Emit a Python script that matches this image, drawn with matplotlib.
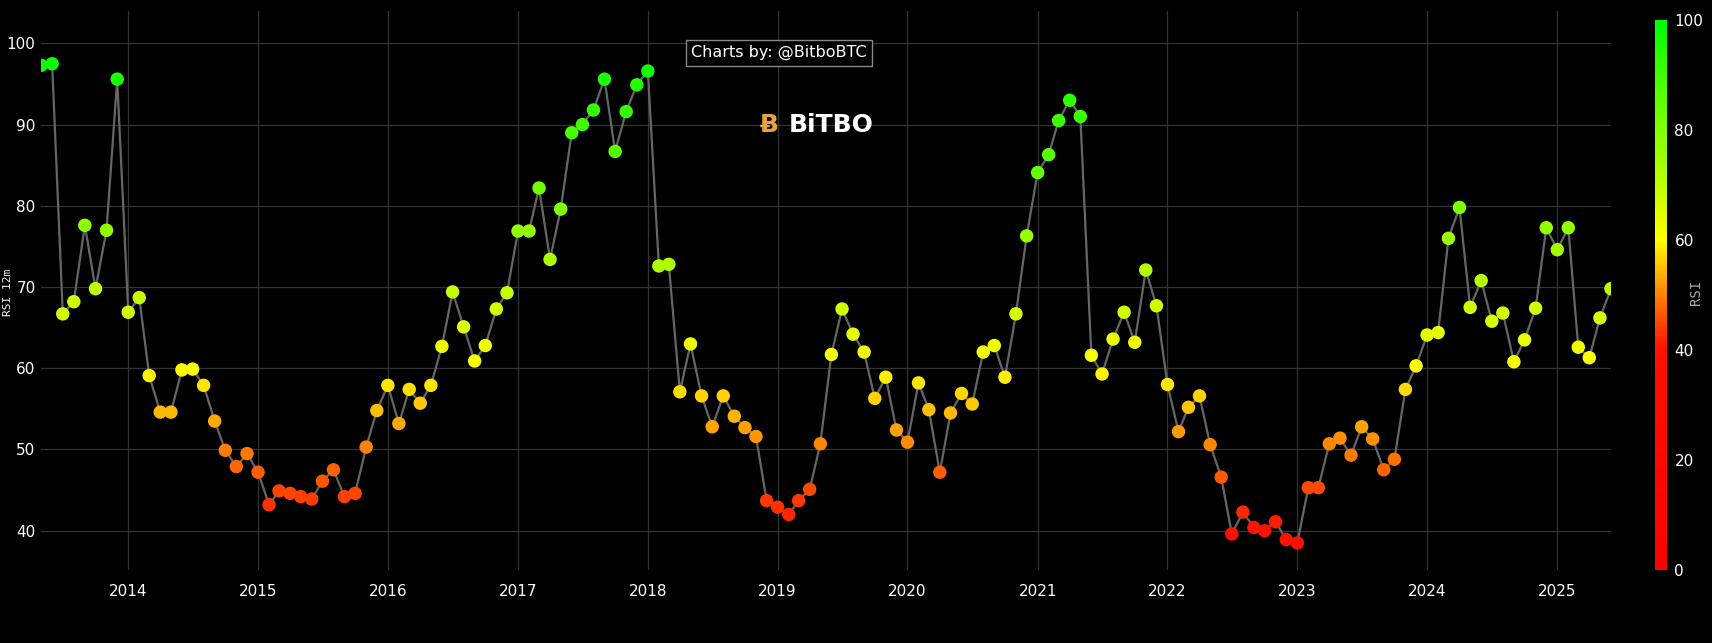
import numpy as np
import pandas as pd
import matplotlib
matplotlib.use("Agg")
from matplotlib import pyplot as plt
import matplotlib.dates as mdates
from matplotlib.colors import LinearSegmentedColormap, Normalize

rsi = [
    # 2013 (May-Dec)
    97.3, 97.5, 66.7, 68.2, 77.6, 69.8, 77.0, 95.6,
    # 2014
    66.9, 68.7, 59.1, 54.6, 54.6, 59.8, 59.9, 57.9, 53.5, 49.9, 47.9, 49.5,
    # 2015
    47.2, 43.2, 44.9, 44.6, 44.2, 43.9, 46.1, 47.5, 44.2, 44.6, 50.3, 54.8,
    # 2016
    57.9, 53.2, 57.4, 55.7, 57.9, 62.7, 69.4, 65.1, 60.9, 62.8, 67.3, 69.3,
    # 2017
    76.9, 76.9, 82.2, 73.4, 79.6, 89.0, 90.0, 91.8, 95.6, 86.7, 91.6, 94.9,
    # 2018
    96.6, 72.6, 72.8, 57.1, 63.0, 56.6, 52.8, 56.6, 54.1, 52.7, 51.6, 43.7,
    # 2019
    42.9, 42.0, 43.7, 45.1, 50.7, 61.7, 67.3, 64.2, 62.0, 56.3, 58.9, 52.4,
    # 2020
    50.9, 58.2, 54.9, 47.2, 54.5, 56.9, 55.6, 62.0, 62.8, 58.9, 66.7, 76.3,
    # 2021
    84.1, 86.3, 90.5, 93.0, 91.0, 61.6, 59.3, 63.6, 66.9, 63.2, 72.1, 67.7,
    # 2022
    58.0, 52.2, 55.2, 56.6, 50.6, 46.6, 39.6, 42.3, 40.4, 40.0, 41.1, 38.9,
    # 2023
    38.5, 45.3, 45.3, 50.7, 51.4, 49.3, 52.8, 51.3, 47.5, 48.8, 57.4, 60.3,
    # 2024
    64.1, 64.4, 76.0, 79.8, 67.5, 70.8, 65.8, 66.8, 60.8, 63.5, 67.4, 77.3,
    # 2025 (Jan-Jun)
    74.6, 77.3, 62.6, 61.3, 66.2, 69.8,
]
dates = pd.date_range("2013-05-01", periods=len(rsi), freq="MS")
yticks = [40, 50, 60, 70, 80, 90, 100]
cbar_ticks = [0, 20, 40, 60, 80, 100]

cmap = LinearSegmentedColormap.from_list(
    "rsi", [(0.0, "#ff0000"), (0.4, "#ff1000"), (0.5, "#ff8000"),
            (0.6, "#ffff00"), (0.8, "#80ff00"), (1.0, "#00ff00")])
norm = Normalize(0, 100)

fig = plt.figure(figsize=(17.12, 6.43), dpi=100, facecolor="black")
ax = fig.add_axes([0.024, 0.114, 0.917, 0.869], facecolor="black")

ax.plot(dates, rsi, color="#666666", lw=1.6, zorder=2)
ax.scatter(dates, rsi, c=rsi, cmap=cmap, norm=norm, s=75, zorder=3)

ax.set_xlim(dates[0], dates[-1])
ax.set_ylim(35.2, 104)
ax.set_yticks(yticks)
ax.xaxis.set_major_locator(mdates.YearLocator())
ax.xaxis.set_major_formatter(mdates.DateFormatter("%Y"))
ax.grid(color="#333333", lw=0.9)
for s in ax.spines.values():
    s.set_visible(False)
ax.tick_params(colors="white", length=0, labelsize=11)
ax.tick_params(axis="y", pad=4)
ax.tick_params(axis="x", pad=10)
fig.text(0.0015, 0.545, "RSI 12m", color="white", fontsize=8, rotation=90,
         ha="left", va="center", fontfamily="DejaVu Sans Mono")

ax.text(0.47, 0.925, "Charts by: @BitboBTC", transform=ax.transAxes, color="white",
        fontsize=11.5, ha="center", va="center",
        bbox=dict(boxstyle="square,pad=0.35", fc="black", ec="#888888", lw=1))
ax.text(0.464, 0.795, "\u0243", transform=ax.transAxes, color="#e8a33a",
        fontsize=18, ha="center", va="center", fontweight="bold")
ax.text(0.476, 0.795, "BiTBO", transform=ax.transAxes, color="white",
        fontsize=18, ha="left", va="center", fontweight="bold")

cax = fig.add_axes([0.9665, 0.114, 0.0075, 0.855])
cb = fig.colorbar(plt.cm.ScalarMappable(norm=norm, cmap=cmap), cax=cax, ticks=cbar_ticks)
cb.outline.set_visible(False)
cb.ax.tick_params(colors="white", length=0, labelsize=11, pad=5)
fig.text(0.9865, 0.545, "RSI", color="#aaaaaa", fontsize=10, rotation=90,
         ha="left", va="center", fontfamily="DejaVu Sans Mono")

fig.savefig("out.png", dpi=100, facecolor="black")
